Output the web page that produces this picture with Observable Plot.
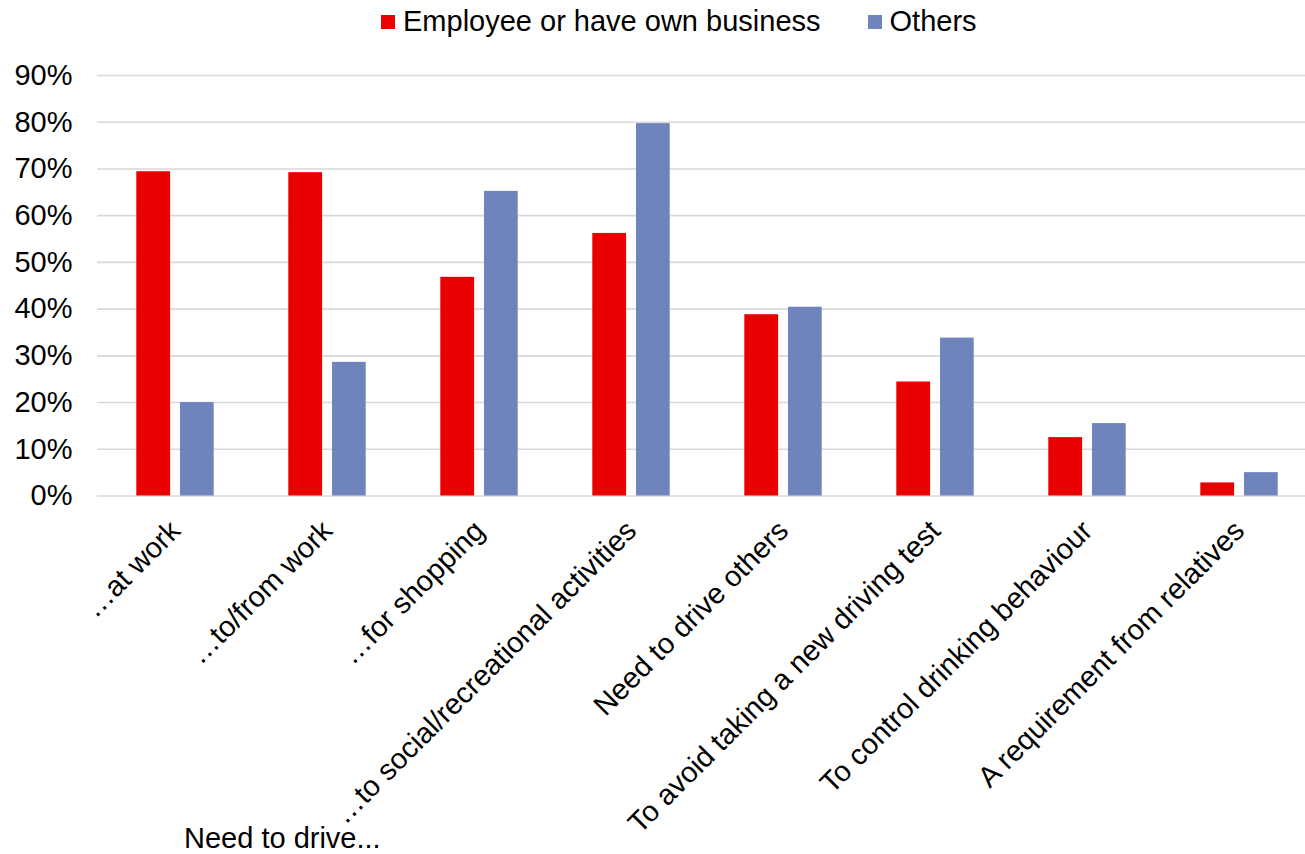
<!DOCTYPE html>
<html>
<head>
<meta charset="utf-8">
<script src="https://cdn.jsdelivr.net/npm/d3@7"></script>
<script src="https://cdn.jsdelivr.net/npm/@observablehq/plot@0.6"></script>
<style>
  body { margin: 0; background: #fff; font-family: "Liberation Sans", Arial, sans-serif; }
  #wrap { position: relative; width: 1305px; height: 854px; overflow: hidden; background: #fff; }
  #chart { position: absolute; left: 0; top: 0; }
  #legend { position: absolute; left: 381px; top: 5px; display: flex; align-items: center; font-size: 29px; line-height: 32px; color: #000; white-space: nowrap; }
  #legend .item { display: flex; align-items: center; margin-right: 47px; }
  #legend .sw { width: 14px; height: 14px; margin-right: 8px; margin-top: 1px; }
  #caption { position: absolute; left: 184px; top: 822px; font-size: 29px; line-height: 32px; color: #000; white-space: nowrap; }
</style>
</head>
<body>
<div id="wrap">
  <div id="chart"></div>
  <div id="legend"></div>
  <div id="caption"></div>
</div>
<script>
const categories = [
  "\u2026at work",
  "\u2026to/from work",
  "\u2026for shopping",
  "\u2026to social/recreational activities",
  "Need to drive others",
  "To avoid taking a new driving test",
  "To control drinking behaviour",
  "A requirement from relatives"
];
const seriesNames = ["Employee or have own business", "Others"];
const employee = [0.694, 0.692, 0.468, 0.562, 0.388, 0.244, 0.125, 0.028];
const others   = [0.200, 0.286, 0.652, 0.797, 0.404, 0.338, 0.155, 0.050];
const yTicks = [0, 0.1, 0.2, 0.3, 0.4, 0.5, 0.6, 0.7, 0.8, 0.9];
const captionText = "Need to drive...";
const colors = ["#E80000", "#6F84BC"];

const rows = categories.map((c, i) => ({category: c, employee: employee[i], others: others[i]}));

const chart = Plot.plot({
  width: 1305,
  height: 854,
  marginTop: 75,
  marginBottom: 358.5,
  marginLeft: 97,
  marginRight: 0,
  style: {fontFamily: "Liberation Sans, Arial, sans-serif", fontSize: "29px", color: "#000", background: "transparent"},
  x: {domain: categories, range: [97, 1317.6], padding: 0, label: null},
  y: {domain: [0, 0.9], label: null},
  marks: [
    Plot.ruleY(yTicks, {stroke: "#d9d9d9", strokeWidth: 1.6}),
    Plot.barY(rows, {x: "category", y: "employee", fill: colors[0], insetLeft: 37.3, insetRight: 80.9}),
    Plot.barY(rows, {x: "category", y: "others", fill: colors[1], insetLeft: 81, insetRight: 37.3}),
    Plot.axisY({ticks: yTicks, tickFormat: d => Math.round(d * 100) + "%", tickSize: 0, tickPadding: 25, label: null, fill: "#000"}),
    Plot.axisX({tickRotate: -45, tickSize: 0, tickPadding: 30, label: null, fill: "#000"})
  ]
});
document.getElementById("chart").appendChild(chart);

const legend = document.getElementById("legend");
seriesNames.forEach((name, i) => {
  const item = document.createElement("div");
  item.className = "item";
  const sw = document.createElement("span");
  sw.className = "sw";
  sw.style.background = colors[i];
  const label = document.createElement("span");
  label.textContent = name;
  item.appendChild(sw);
  item.appendChild(label);
  legend.appendChild(item);
});
document.getElementById("caption").textContent = captionText;
</script>
</body>
</html>
